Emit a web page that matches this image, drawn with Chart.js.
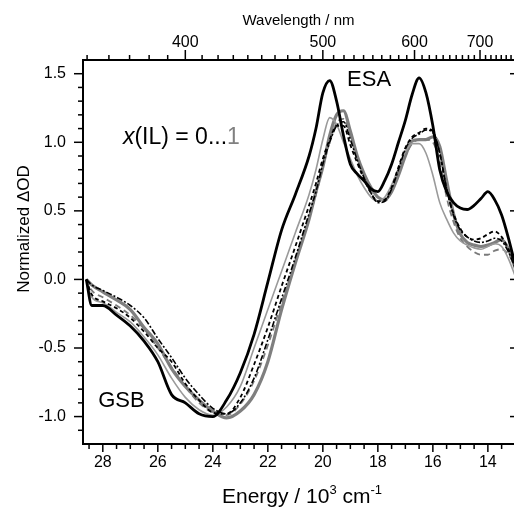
<!DOCTYPE html>
<html>
<head>
<meta charset="utf-8">
<script src="https://cdn.jsdelivr.net/npm/chart.js@4.4.1/dist/chart.umd.min.js"></script>
<style>
  html, body { margin: 0; padding: 0; background: #fff; }
  #wrap { width: 514px; height: 508px; position: relative; }
</style>
</head>
<body>
<div id="wrap"><canvas id="chart"></canvas></div>
<script>
// ---- data ----
const energy = [28.6, 28.4, 28.0, 27.5, 27.0, 26.5, 26.0, 25.5, 25.0, 24.5, 24.0, 23.5, 23.0, 22.5, 22.0, 21.5, 21.0, 20.5,
    20.25, 20.0, 19.75, 19.5, 19.25, 19.0, 18.75, 18.5, 18.25, 18.0, 17.75, 17.5, 17.25, 17.0, 16.75, 16.5, 16.25, 16.0,
    15.75, 15.5, 15.25, 15.0, 14.75, 14.5, 14.25, 14.0, 13.75, 13.5, 13.25, 13.0];

// x(IL) = 0 : black, thick
const odBlack = [0.0, -0.19, -0.19, -0.26, -0.34, -0.45, -0.60, -0.84, -0.90, -0.98, -1.0, -0.88, -0.68, -0.40, -0.02, 0.36, 0.62, 0.90,
    1.10, 1.36, 1.45, 1.30, 1.05, 0.84, 0.77, 0.72, 0.66, 0.64, 0.72, 0.84, 1.00, 1.16, 1.35, 1.47, 1.36, 1.12,
    0.80, 0.64, 0.56, 0.52, 0.51, 0.54, 0.59, 0.64, 0.58, 0.47, 0.30, 0.10];
// black dashed
const odBlackDash = [0.0, -0.11, -0.16, -0.21, -0.28, -0.38, -0.50, -0.60, -0.76, -0.88, -0.97, -0.98, -0.86, -0.62, -0.35, -0.05, 0.24, 0.54,
    0.70, 0.88, 1.02, 1.12, 1.12, 0.98, 0.85, 0.73, 0.63, 0.57, 0.58, 0.67, 0.82, 0.96, 1.04, 1.07, 1.10, 1.08,
    0.92, 0.66, 0.48, 0.37, 0.31, 0.29, 0.30, 0.33, 0.35, 0.31, 0.22, 0.12];
// black dash-dot
const odBlackDot = [0.0, -0.04, -0.08, -0.13, -0.19, -0.28, -0.43, -0.57, -0.72, -0.84, -0.94, -0.98, -0.90, -0.72, -0.44, -0.14, 0.16, 0.48,
    0.64, 0.84, 1.00, 1.12, 1.15, 1.02, 0.87, 0.74, 0.63, 0.56, 0.57, 0.66, 0.80, 0.95, 1.03, 1.06, 1.09, 1.07,
    0.92, 0.66, 0.47, 0.36, 0.31, 0.28, 0.27, 0.28, 0.30, 0.28, 0.20, 0.08];
// light grey, thin
const odGreyThin = [0.0, -0.13, -0.17, -0.24, -0.31, -0.42, -0.55, -0.72, -0.86, -0.95, -0.99, -0.93, -0.78, -0.50, -0.22, 0.06, 0.34, 0.62,
    0.80, 1.02, 1.18, 1.13, 1.00, 0.88, 0.76, 0.67, 0.60, 0.57, 0.60, 0.69, 0.81, 0.93, 0.99, 0.99, 0.92, 0.76,
    0.56, 0.44, 0.34, 0.28, 0.25, 0.23, 0.22, 0.24, 0.26, 0.24, 0.15, 0.02];
// grey dashed
const odGreyDash = [0.0, -0.08, -0.13, -0.19, -0.26, -0.36, -0.50, -0.64, -0.78, -0.90, -0.97, -0.99, -0.91, -0.74, -0.48, -0.17, 0.13, 0.45,
    0.62, 0.82, 1.00, 1.14, 1.17, 1.04, 0.89, 0.76, 0.64, 0.57, 0.57, 0.64, 0.77, 0.90, 0.99, 1.02, 1.02, 1.00,
    0.86, 0.60, 0.42, 0.30, 0.24, 0.20, 0.18, 0.18, 0.21, 0.22, 0.18, 0.10];
// x(IL) = 1 : grey, thick
const odGrey = [0.0, -0.04, -0.09, -0.15, -0.22, -0.35, -0.47, -0.65, -0.78, -0.88, -0.96, -1.01, -0.96, -0.84, -0.60, -0.22, 0.12, 0.44,
    0.64, 0.82, 1.05, 1.20, 1.23, 1.08, 0.90, 0.77, 0.67, 0.60, 0.58, 0.64, 0.76, 0.90, 1.01, 1.02, 1.02, 1.04,
    0.97, 0.72, 0.48, 0.33, 0.27, 0.25, 0.24, 0.25, 0.27, 0.29, 0.22, 0.08];

const energyTicks = [28, 26, 24, 22, 20, 18, 16, 14];
const odTicks = [-1.0, -0.5, 0.0, 0.5, 1.0, 1.5];
const wavelengthTicks = [400, 500, 600, 700];

const FONT = "'Liberation Sans', Arial, Helvetica, sans-serif";
const E_MIN = 13.05, E_MAX = 28.72;

const series = [
    { ys: odBlack,     color: '#000000', width: 2.8, dash: [] },
    { ys: odBlackDash, color: '#000000', width: 1.8, dash: [4, 3] },
    { ys: odBlackDot,  color: '#000000', width: 1.6, dash: [6, 2, 2, 2] },
    { ys: odGreyThin,  color: '#9a9a9a', width: 1.6, dash: [] },
    { ys: odGreyDash,  color: '#7a7a7a', width: 1.8, dash: [6, 4] },
    { ys: odGrey,      color: '#7f7f7f', width: 3.2, dash: [] }
];

// frame, minor ticks, annotations
const frameTicks = {
    id: 'frameTicks',
    afterDraw(chart) {
        const { ctx, chartArea: a, scales } = chart;
        const sx = scales.x, sy = scales.y;
        const line = (x1, y1, x2, y2) => { ctx.beginPath(); ctx.moveTo(x1, y1); ctx.lineTo(x2, y2); ctx.stroke(); };
        ctx.save();
        ctx.strokeStyle = '#000';
        ctx.lineWidth = 2;
        ctx.beginPath();
        ctx.moveTo(a.right + 2, a.top);
        ctx.lineTo(a.left, a.top);
        ctx.lineTo(a.left, a.bottom);
        ctx.lineTo(a.right + 2, a.bottom);
        ctx.stroke();

        ctx.lineWidth = 1.5;
        // bottom: every 0.5, major every 2
        for (let e = 13.5; e <= 28.5; e += 0.5) {
            const px = sx.getPixelForValue(e);
            line(px, a.bottom, px, a.bottom + (e % 2 === 0 ? 8 : 5));
        }
        // left: every 0.1, major every 0.5; right: major only, inward
        for (let k = -11; k <= 15; k++) {
            const py = sy.getPixelForValue(k / 10);
            const major = k % 5 === 0;
            line(a.left, py, a.left - (major ? 9 : 5), py);
            if (major) line(a.right, py, a.right - 4, py);
        }
        // top: wavelength every 10 nm, major every 100
        for (let w = 350; w <= 760; w += 10) {
            const e = 1e4 / w;
            if (e < E_MIN || e > E_MAX) continue;
            const px = sx.getPixelForValue(e);
            line(px, a.top, px, a.top - (w % 100 === 0 ? 10 : 5));
        }

        // axis titles
        ctx.fillStyle = '#000';
        ctx.font = `17px ${FONT}`;
        ctx.textAlign = 'center';
        ctx.textBaseline = 'middle';
        ctx.save();
        ctx.translate(24, 229);
        ctx.rotate(-Math.PI / 2);
        ctx.fillText('Normalized \u0394OD', 0, 0);
        ctx.restore();

        const parts = [
            { t: 'Energy / 10', f: `21px ${FONT}`, dy: 0 },
            { t: '3', f: `13px ${FONT}`, dy: -9 },
            { t: ' cm', f: `21px ${FONT}`, dy: 0 },
            { t: '-1', f: `13px ${FONT}`, dy: -9 }
        ];
        ctx.textAlign = 'left';
        ctx.textBaseline = 'alphabetic';
        let total = 0;
        parts.forEach(p => { ctx.font = p.f; p.w = ctx.measureText(p.t).width; total += p.w; });
        let cx = 302 - total / 2;
        parts.forEach(p => { ctx.font = p.f; ctx.fillText(p.t, cx, 503 + p.dy); cx += p.w; });

        // annotations, placed in data coordinates
        ctx.font = `22px ${FONT}`;
        ctx.fillText('ESA', sx.getPixelForValue(19.12), sy.getPixelForValue(1.41));
        ctx.fillText('GSB', sx.getPixelForValue(28.17), sy.getPixelForValue(-0.93));
        const lab = [
            { t: 'x', f: `italic 23px ${FONT}`, c: '#000' },
            { t: '(IL) = 0...', f: `23px ${FONT}`, c: '#000' },
            { t: '1', f: `23px ${FONT}`, c: '#808080' }
        ];
        let lx = sx.getPixelForValue(27.27);
        const ly = sy.getPixelForValue(0.985);
        lab.forEach(p => {
            ctx.font = p.f; ctx.fillStyle = p.c;
            ctx.fillText(p.t, lx, ly);
            lx += ctx.measureText(p.t).width;
        });
        ctx.restore();
    }
};

const tickFont = { family: FONT, size: 16 };

new Chart(document.getElementById('chart'), {
    type: 'line',
    data: {
        datasets: series.map(s => ({
            data: energy.map((e, i) => ({ x: e, y: s.ys[i] })),
            borderColor: s.color,
            borderWidth: s.width,
            borderDash: s.dash,
            pointRadius: 0,
            fill: false,
            cubicInterpolationMode: 'monotone'
        }))
    },
    options: {
        responsive: true,
        maintainAspectRatio: false,
        animation: false,
        layout: { padding: 0 },
        plugins: { legend: { display: false }, tooltip: { enabled: false } },
        scales: {
            x: {
                type: 'linear', position: 'bottom', min: E_MIN, max: E_MAX, reverse: true,
                grid: { display: false }, border: { display: false },
                afterBuildTicks: s => { s.ticks = energyTicks.map(v => ({ value: v })); },
                ticks: { font: tickFont, color: '#000', padding: 1, maxRotation: 0, autoSkip: false, callback: v => String(v) },
                afterFit: s => { s.height = 64; }
            },
            top: {
                axis: 'x', type: 'linear', position: 'top', min: E_MIN, max: E_MAX, reverse: true,
                grid: { display: false }, border: { display: false },
                afterBuildTicks: s => { s.ticks = wavelengthTicks.map(w => ({ value: 1e4 / w })); },
                ticks: { font: tickFont, color: '#000', padding: 0, maxRotation: 0, autoSkip: false, callback: v => String(Math.round(1e4 / v)) },
                title: { display: true, text: 'Wavelength / nm', color: '#000', font: { family: FONT, size: 15 }, padding: { top: 12, bottom: 0 } },
                afterFit: s => { s.height = 60; }
            },
            y: {
                type: 'linear', min: -1.2, max: 1.6,
                grid: { display: false }, border: { display: false },
                afterBuildTicks: s => { s.ticks = odTicks.map(v => ({ value: v })); },
                ticks: { font: tickFont, color: '#000', padding: 9, callback: v => v.toFixed(1) },
                afterFit: s => { s.width = 83; }
            }
        }
    },
    plugins: [frameTicks]
});
</script>
</body>
</html>
